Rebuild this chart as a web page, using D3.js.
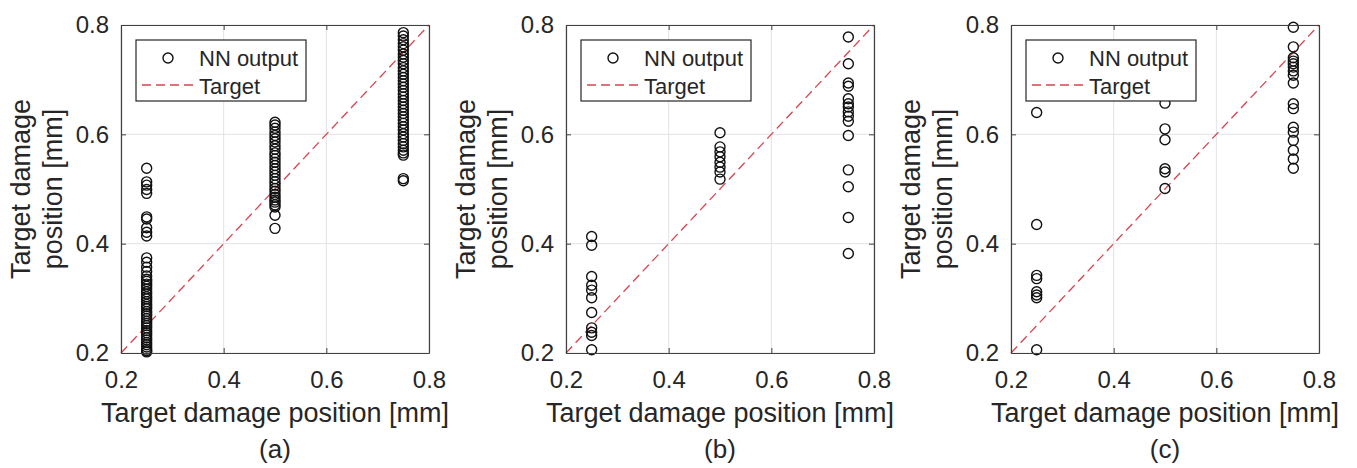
<!DOCTYPE html>
<html>
<head>
<meta charset="utf-8">
<script src="https://cdn.jsdelivr.net/npm/d3@7"></script>
<style>
  body { margin: 0; background: #fff; }
  svg text { font-family: "Liberation Sans", Arial, sans-serif; fill: #262626; }
</style>
</head>
<body>
<svg id="chart"></svg>
<script>
var width = 1357,
    height = 468;

// Panel captions and target positions (x of each column)
var panelNames = ["(a)", "(b)", "(c)"];
var targetPos = [0.25, 0.5, 0.75];
var tickVals = [0.2, 0.4, 0.6, 0.8];

// NN output, one list per target column
var outA25 = [0.538, 0.513, 0.507, 0.499, 0.492, 0.449, 0.445, 0.429, 0.421, 0.414,
              0.374, 0.366, 0.357, 0.349, 0.341, 0.335, 0.331, 0.326, 0.322, 0.317,
              0.312, 0.308, 0.303, 0.299, 0.294, 0.289, 0.285, 0.281, 0.276, 0.272,
              0.268, 0.263, 0.258, 0.254, 0.250, 0.246, 0.241, 0.237, 0.233, 0.228,
              0.224, 0.219, 0.215, 0.211, 0.207, 0.204, 0.202];
var outA50 = [0.622, 0.617, 0.611, 0.604, 0.598, 0.592, 0.586, 0.579, 0.573, 0.566,
              0.561, 0.555, 0.549, 0.543, 0.537, 0.531, 0.525, 0.519, 0.513, 0.507,
              0.501, 0.496, 0.490, 0.485, 0.480, 0.476, 0.471, 0.467, 0.452, 0.428];
var outA75 = [0.786, 0.780, 0.773, 0.766, 0.760, 0.754, 0.747, 0.741, 0.735, 0.729,
              0.722, 0.716, 0.710, 0.704, 0.698, 0.692, 0.686, 0.680, 0.674, 0.668,
              0.662, 0.656, 0.650, 0.644, 0.638, 0.632, 0.626, 0.620, 0.614, 0.608,
              0.601, 0.595, 0.589, 0.583, 0.577, 0.571, 0.566, 0.562, 0.519, 0.515];
var outB25 = [0.413, 0.397, 0.340, 0.324, 0.315, 0.301, 0.274, 0.246, 0.238, 0.232, 0.206];
var outB50 = [0.603, 0.577, 0.568, 0.559, 0.549, 0.540, 0.531, 0.518];
var outB75 = [0.778, 0.729, 0.694, 0.688, 0.665, 0.656, 0.650, 0.641, 0.633, 0.624,
              0.598, 0.535, 0.504, 0.448, 0.382];
var outC25 = [0.640, 0.435, 0.342, 0.336, 0.312, 0.306, 0.301, 0.206];
var outC50 = [0.657, 0.610, 0.590, 0.537, 0.531, 0.501];
var outC75 = [0.796, 0.760, 0.740, 0.734, 0.729, 0.723, 0.716, 0.708, 0.694, 0.656,
              0.647, 0.613, 0.604, 0.589, 0.571, 0.555, 0.538];

var panelOutputs = [
    [outA25, outA50, outA75],
    [outB25, outB50, outB75],
    [outC25, outC50, outC75]
];

var plotLefts = [121, 566, 1011];
var plotW = 308,
    plotTop = 25,
    plotH = 328;

var svg = d3.select("#chart")
    .attr("width", width)
    .attr("height", height);

var x = d3.scaleLinear().domain([0.2, 0.8]).range([0, plotW]);
var y = d3.scaleLinear().domain([0.2, 0.8]).range([plotH, 0]);
var fmt = d3.format(".1f");

panelNames.forEach(function(name, i) {

    var g = svg.append("g")
        .attr("transform", "translate(" + plotLefts[i] + "," + plotTop + ")");

    // grid
    g.append("g").selectAll("line.gx")
        .data(tickVals).enter().append("line")
            .attr("x1", (d) => x(d)).attr("x2", (d) => x(d))
            .attr("y1", 0).attr("y2", plotH)
            .attr("stroke", "#e3e3e3");
    g.append("g").selectAll("line.gy")
        .data(tickVals).enter().append("line")
            .attr("y1", (d) => y(d)).attr("y2", (d) => y(d))
            .attr("x1", 0).attr("x2", plotW)
            .attr("stroke", "#e3e3e3");

    // target line
    g.append("line")
        .attr("x1", x(0.2)).attr("y1", y(0.2))
        .attr("x2", x(0.8)).attr("y2", y(0.8))
        .attr("stroke", "#d9434f")
        .attr("stroke-width", 1.3)
        .attr("stroke-dasharray", "9,5");

    // points
    var pts = [];
    panelOutputs[i].forEach(function(list, k) {
        list.forEach((v) => pts.push({ x: targetPos[k], y: v }));
    });
    g.append("g").selectAll("circle")
        .data(pts).enter().append("circle")
            .attr("cx", (d) => x(d.x))
            .attr("cy", (d) => y(d.y))
            .attr("r", 5)
            .attr("fill", "none")
            .attr("stroke", "#111")
            .attr("stroke-width", 1.4);

    // axes (box with inward ticks)
    var axB = g.append("g").attr("transform", "translate(0," + plotH + ")")
        .call(d3.axisBottom(x).tickValues(tickVals).tickFormat(fmt).tickSizeInner(-5).tickSizeOuter(0).tickPadding(12));
    var axL = g.append("g")
        .call(d3.axisLeft(y).tickValues(tickVals).tickFormat(fmt).tickSizeInner(-5).tickSizeOuter(0).tickPadding(12));
    var axT = g.append("g")
        .call(d3.axisTop(x).tickValues(tickVals).tickFormat("").tickSizeInner(-5).tickSizeOuter(0));
    var axR = g.append("g").attr("transform", "translate(" + plotW + ",0)")
        .call(d3.axisRight(y).tickValues(tickVals).tickFormat("").tickSizeInner(-5).tickSizeOuter(0));

    [axB, axL, axT, axR].forEach(function(a) {
        a.select(".domain").attr("stroke", "#404040").attr("stroke-width", 1.2);
        a.selectAll(".tick line").attr("stroke", "#404040");
        a.selectAll(".tick text")
            .attr("font-size", 24)
            .attr("font-family", "Liberation Sans, Arial, sans-serif")
            .attr("fill", "#262626");
    });
    axB.selectAll(".tick text").attr("dy", "0.95em");

    // x label and caption
    g.append("text")
        .attr("x", plotW / 2).attr("y", 397)
        .attr("text-anchor", "middle")
        .attr("font-size", 27)
        .text("Target damage position [mm]");
    g.append("text")
        .attr("x", plotW / 2).attr("y", 433)
        .attr("text-anchor", "middle")
        .attr("font-size", 26)
        .text(name);

    // y label, two lines
    var yl = g.append("text")
        .attr("transform", "translate(0," + (plotH / 2) + ") rotate(-90)")
        .attr("text-anchor", "middle")
        .attr("font-size", 27);
    yl.append("tspan").attr("x", 0).attr("y", -91).text("Target damage");
    yl.append("tspan").attr("x", 0).attr("y", -59).text("position [mm]");

    // legend
    var lg = g.append("g").attr("transform", "translate(15,15)");
    lg.append("rect")
        .attr("width", 170).attr("height", 61)
        .attr("fill", "#fff")
        .attr("stroke", "#262626")
        .attr("stroke-width", 1.2);
    lg.append("circle")
        .attr("cx", 32).attr("cy", 18).attr("r", 5)
        .attr("fill", "none").attr("stroke", "#111").attr("stroke-width", 1.4);
    lg.append("text")
        .attr("x", 63).attr("y", 26)
        .attr("font-size", 22)
        .text("NN output");
    lg.append("line")
        .attr("x1", 6).attr("x2", 62)
        .attr("y1", 45).attr("y2", 45)
        .attr("stroke", "#d9434f")
        .attr("stroke-width", 1.3)
        .attr("stroke-dasharray", "9,5");
    lg.append("text")
        .attr("x", 63).attr("y", 54)
        .attr("font-size", 22)
        .text("Target");
});
</script>
</body>
</html>
